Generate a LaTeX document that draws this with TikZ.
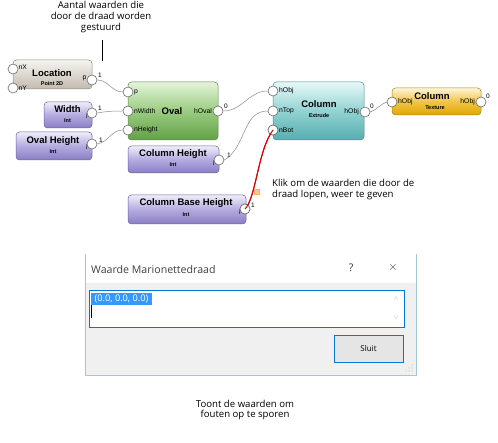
\documentclass[tikz,border=0pt]{standalone}
\usepackage{fontspec}
\setmainfont{Liberation Sans}
\newfontfamily\annfont{Open Sans}
\usetikzlibrary{shapes.geometric}
\definecolor{portgray}{HTML}{6A6A6A}
\definecolor{wiregray}{HTML}{8C8C8C}
\definecolor{winblue}{HTML}{0078D7}
\definecolor{selblue}{HTML}{3399FF}
\definecolor{dlgbg}{HTML}{F0F0F0}
\definecolor{gTop}{HTML}{F6F4F0}\definecolor{gBot}{HTML}{C2BAAE}\definecolor{gLine}{HTML}{8E8880}
\definecolor{pTop}{HTML}{F0EDFA}\definecolor{pMid}{HTML}{B4ABE0}\definecolor{pBot}{HTML}{8A7EC4}\definecolor{pLine}{HTML}{6E64A0}
\definecolor{grTop}{HTML}{E4F4DA}\definecolor{grMid}{HTML}{9ACC80}\definecolor{grBot}{HTML}{62A048}\definecolor{grLine}{HTML}{5A8A48}
\definecolor{tTop}{HTML}{E8F8F8}\definecolor{tMid}{HTML}{92D2D2}\definecolor{tBot}{HTML}{56AEB0}\definecolor{tLine}{HTML}{4A8E90}
\definecolor{yTop}{HTML}{FFF6D8}\definecolor{yMid}{HTML}{F0C448}\definecolor{yBot}{HTML}{E2A800}\definecolor{yLine}{HTML}{A88420}
\tikzset{
  box/.style={draw=#1, rounded corners=3.5pt, line width=0.5pt, inner sep=0pt},
  boxgray/.style={box=gLine, top color=gTop, bottom color=gBot, minimum width=79pt, minimum height=29pt},
  boxpurple/.style={box=pLine, top color=pTop, bottom color=pBot, middle color=pMid},
  boxgreen/.style={box=grLine, top color=grTop, bottom color=grBot, middle color=grMid},
  boxteal/.style={box=tLine, top color=tTop, bottom color=tBot, middle color=tMid},
  boxyellow/.style={box=yLine, top color=yTop, bottom color=yBot, middle color=yMid},
  port/.style={circle, draw=portgray, fill=white, line width=0.6pt, minimum size=10pt, inner sep=0pt},
  ttl/.style={font=\bfseries\fontsize{9.5}{10}\selectfont, inner sep=0pt},
  sub/.style={font=\bfseries\fontsize{5.5}{6}\selectfont, inner sep=0pt},
  plab/.style={font=\fontsize{6.8}{7}\selectfont, inner sep=0pt},
  num/.style={font=\fontsize{6.5}{7}\selectfont, inner sep=0pt},
  wire/.style={draw=wiregray, line width=0.5pt},
  ann/.style={font=\annfont\fontsize{9.6}{10.8}\selectfont, inner sep=0pt, align=center},
}
\begin{document}
\begin{tikzpicture}[x=1pt,y=-1pt]
\useasboundingbox (0,0) rectangle (498,443);
\fill[white] (0,0) rectangle (498,443);

% top annotation
\node[ann] (annTop) at (101,17) {Aantal waarden die\\door de draad worden\\gestuurd};
\coordinate (lnA) at (102,40);
\coordinate (lnB) at (102,61);
\draw[line width=0.8pt] (lnA) -- (lnB);

% Location
\node[boxgray] (loc) at (52.5,74.5) {};
\node[ttl] (locT) at (52,73) {Location};
\node[sub] (locS) at (52,84) {Point 2D};
\node[port] (locX) at (13,69) {};
\node[port] (locY) at (13,88) {};
\node[port] (locP) at (92,80) {};
\node[plab, anchor=west] (locXl) at (18.5,67) {nX};
\node[plab, anchor=west] (locYl) at (18.5,88.5) {nY};
\node[plab, anchor=east] (locPl) at (86.5,78) {p};
\node[num] (locN) at (100,75) {1};

% Width
\node[boxpurple, minimum width=48pt, minimum height=26pt] (wid) at (68,115) {};
\node[ttl] (widT) at (67.5,109) {Width};
\node[sub] (widS) at (67.5,121) {Int};
\node[port] (widP) at (92,113) {};
\node[plab] (widI) at (87,116) {i};
\node[num] (widN) at (100,108) {1};

% Oval Height
\node[boxpurple, minimum width=76pt, minimum height=28pt] (ovh) at (54,146) {};
\node[ttl] (ovhT) at (53,141) {Oval Height};
\node[sub] (ovhS) at (53,152) {Int};
\node[port] (ovhP) at (92,144) {};
\node[plab] (ovhI) at (87,147) {i};
\node[num] (ovhN) at (101,140) {1};

% Oval
\node[boxgreen, minimum width=90pt, minimum height=58pt] (ova) at (173,111) {};
\node[ttl] (ovaT) at (172,111) {Oval};
\node[port] (ovaP) at (128,92) {};
\node[port] (ovaW) at (128,111) {};
\node[port] (ovaH) at (128,130) {};
\node[port] (ovaO) at (218,111) {};
\node[plab, anchor=west] (ovaPl) at (134,92) {p};
\node[plab, anchor=west] (ovaWl) at (134,111) {nWidth};
\node[plab, anchor=west] (ovaHl) at (134,130) {nHeight};
\node[plab, anchor=east] (ovaOl) at (212,111) {hOval};
\node[num] (ovaN) at (226,106) {0};

% Column Height
\node[boxpurple, minimum width=91pt, minimum height=27pt] (colh) at (173.5,159.5) {};
\node[ttl] (colhT) at (173,154) {Column Height};
\node[sub] (colhS) at (173,165) {Int};
\node[port] (colhP) at (219,160) {};
\node[plab] (colhI) at (214,163) {i};
\node[num] (colhN) at (229,155) {1};

% Column Base Height
\node[boxpurple, minimum width=118pt, minimum height=29pt] (cbh) at (187,209.5) {};
\node[ttl] (cbhT) at (186,203) {Column Base Height};
\node[sub] (cbhS) at (186,215) {Int};
\node[port] (cbhP) at (245,209) {};
\node[plab] (cbhI) at (240,212) {i};
\node[num] (cbhN) at (253,205) {1};

% Column Extrude
\node[boxteal, minimum width=91pt, minimum height=58pt] (ext) at (318.5,111) {};
\node[ttl] (extT) at (319,104) {Column};
\node[sub] (extS) at (319,116) {Extrude};
\node[port] (extO1) at (273,91) {};
\node[port] (extT1) at (273,111) {};
\node[port] (extB1) at (273,130) {};
\node[port] (extOut) at (365,112) {};
\node[plab, anchor=west] (extO1l) at (279,91) {hObj};
\node[plab, anchor=west] (extT1l) at (279,111) {nTop};
\node[plab, anchor=west] (extB1l) at (279,130) {nBot};
\node[plab, anchor=east] (extOutl) at (359,112) {hObj};
\node[num] (extN) at (372,106) {0};

% Column Texture
\node[boxyellow, minimum width=89pt, minimum height=27pt] (tex) at (436.5,101.5) {};
\node[ttl] (texT) at (432,96) {Column};
\node[sub] (texS) at (435,108) {Texture};
\node[port] (texI) at (392,102) {};
\node[port] (texO) at (481,102) {};
\node[plab, anchor=west] (texIl) at (398,102) {hObj};
\node[plab, anchor=east] (texOl) at (475,102) {hObj};
\node[num] (texN) at (488,96) {0};

% wires
\draw[wire] (locP.east) to[out=0,in=180] (ovaP.west);
\draw[wire] (widP.east) to[out=10,in=180] (ovaW.west);
\draw[wire] (ovhP.east) to[out=10,in=180] (ovaH.west);
\draw[wire] (ovaO.east) to[out=0,in=180] (extO1.west);
\draw[wire] (colhP.east) to[out=30,in=180] (extT1.west);
\draw[wire] (extOut.east) to[out=20,in=200] (texI.west);
\draw[red!85!black, line width=1pt] (cbhP.center) .. controls (256,198) and (258,150) .. (extB1.center);
\node[port] (cbhP2) at (245,209) {};
\node[port] (extB2) at (273,130) {};
\draw[red!85!black, line width=1pt] (cbhP2.center) .. controls (256,198) and (258,150) .. (extB2.center);
\node[draw=orange!60, fill=orange!45, minimum size=5pt, inner sep=0pt] (mark) at (257,192) {};

% annotation right
\node[ann, align=left, anchor=north west] (annR) at (272,179) {Klik om de waarden die door de\\draad lopen, weer te geven};

% dialog
\node[draw=cyan!40!gray!60, fill=dlgbg, minimum width=331pt, minimum height=121pt, inner sep=0pt] (dlg) at (250.5,314.5) {};
\fill[white] (85.5,254.5) rectangle (415.5,283);
\node[font=\annfont\fontsize{10.6}{11}\selectfont, anchor=west, text=black!75, inner sep=0pt] (dlgT) at (91,270) {Waarde Marionettedraad};
\node[font=\annfont\fontsize{10.5}{10}\selectfont, text=black!80, inner sep=0pt] (dlgQ) at (351,268) {?};
\node[font=\fontsize{12}{12}\selectfont, text=black!80, inner sep=0pt] (dlgX) at (393,268) {$\times$};
\node[draw=winblue, fill=white, line width=0.7pt, minimum width=315pt, minimum height=37pt, inner sep=0pt] (fld) at (246.5,308.5) {};
\node[fill=selblue, minimum width=61pt, minimum height=12pt, inner sep=0pt] (sel) at (121.5,299) {};
\node[font=\annfont\fontsize{9.2}{10}\selectfont, text=white, inner sep=0pt] (selT) at (121.5,299) {(0.0, 0.0, 0.0)};
\coordinate (curA) at (91.5,305);
\coordinate (curB) at (91.5,318);
\draw[line width=0.6pt] (curA) -- (curB);
\node[font=\fontsize{6}{6}\selectfont, text=black!30, inner sep=0pt] (scrU) at (396,299) {$\wedge$};
\node[font=\fontsize{6}{6}\selectfont, text=black!30, inner sep=0pt] (scrD) at (396,318) {$\vee$};
\node[draw=winblue, fill=black!10, line width=0.8pt, minimum width=69pt, minimum height=27pt, inner sep=0pt] (btn) at (368.5,349) {};
\node[font=\annfont\fontsize{8}{9}\selectfont, inner sep=0pt] (btnT) at (368.5,349) {Sluit};
\foreach \gx/\gy in {412/371, 409/371, 412/368, 406/371, 409/368, 412/365}
  \fill[black!35] (\gx,\gy) circle (0.5pt);

% bottom annotation
\node[ann] (annB) at (245,410) {Toont de waarden om\\fouten op te sporen};
\end{tikzpicture}
\end{document}
